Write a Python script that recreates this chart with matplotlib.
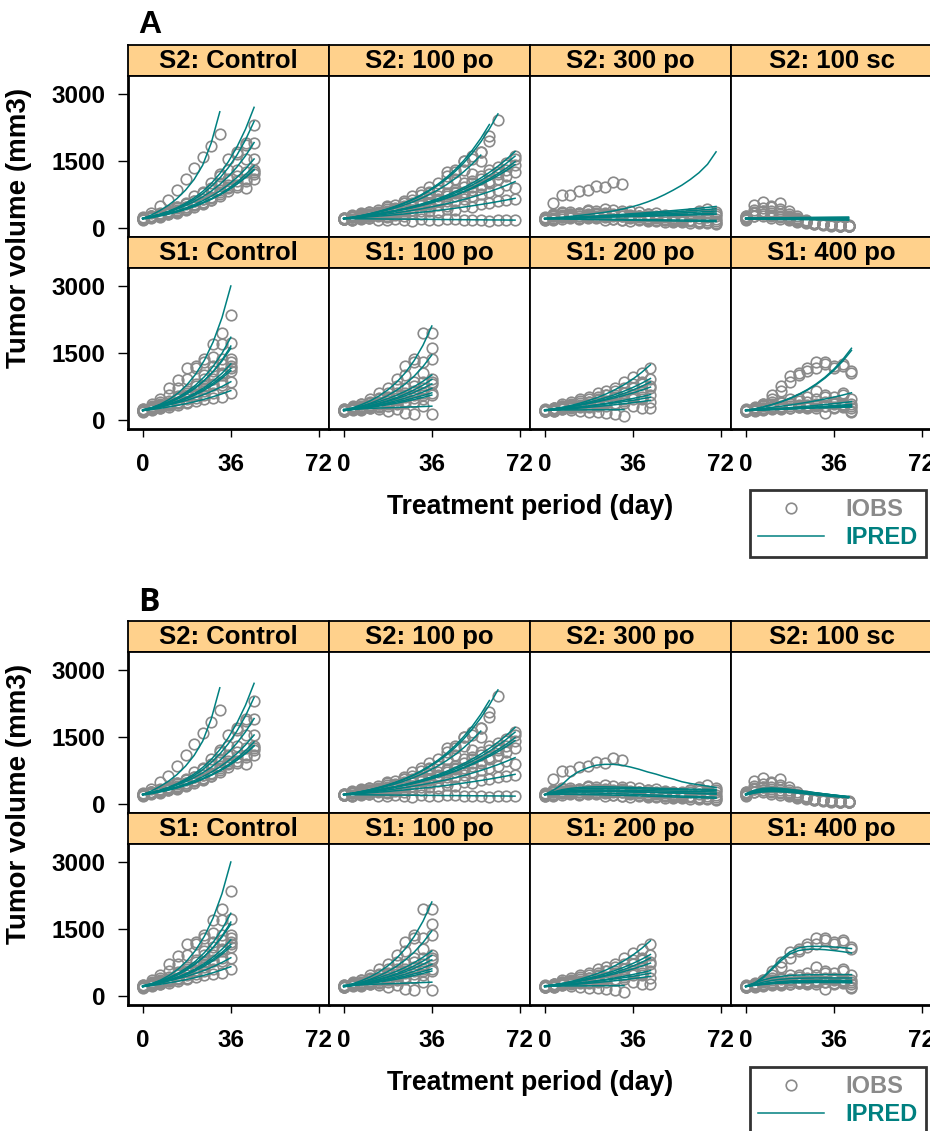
import numpy as np
import matplotlib.pyplot as plt
from matplotlib.lines import Line2D

plt.rcParams['font.family'] = ['Liberation Sans', 'DejaVu Sans']
plt.rcParams['font.weight'] = 'bold'

GRAY = '#8a8a8a'
TEAL = '#008080'
STRIP = '#ffd18c'

# sampling days
DAYS_S2 = [0, 3.5, 7, 10.5, 14, 17.5, 21, 24.5, 28, 31.5, 35, 38.5, 42, 45.5,
           49, 52.5, 56, 59.5, 63, 66.5, 70]
DAYS_S1 = [0, 3.6, 7.2, 10.8, 14.4, 18, 21.6, 25.2, 28.8, 32.4, 36, 39.6, 43.2]

# ---- S2: Control ----
S2_CTRL_OBS = [
    [200, 330, 480, 620, 840, 1090, 1340, 1580, 1840, 2100],
    [210, 260, 320, 350, 470, 520, 700, 780, 1000, 1150, 1550, 1650, 1900, 2300],
    [190, 250, 310, 330, 450, 560, 600, 800, 880, 1200, 1300, 1700, 1850, 1900],
    [230, 270, 280, 380, 430, 470, 600, 650, 850, 1000, 1100, 1300, 1550, 1550],
    [200, 260, 250, 330, 350, 470, 500, 630, 680, 850, 950, 1150, 1250, 1300],
    [180, 210, 290, 300, 380, 400, 500, 520, 660, 700, 880, 900, 1100, 1250],
    [220, 240, 300, 300, 390, 420, 520, 560, 620, 750, 820, 1050, 1050, 1100],
    [190, 240, 240, 320, 330, 420, 450, 580, 620, 800, 900, 950, 880, 1200],
]
S2_CTRL_IPRED = [
    [200, 280, 380, 500, 650, 840, 1080, 1400, 1900, 2600],
    [200, 245, 300, 365, 445, 545, 665, 810, 990, 1210, 1480, 1810, 2210, 2700],
    [200, 242, 293, 354, 429, 519, 628, 760, 919, 1112, 1346, 1628, 1970, 2384],
    [210, 249, 295, 350, 414, 491, 582, 689, 817, 968, 1147, 1359, 1611, 1909],
    [200, 234, 274, 320, 375, 439, 513, 601, 703, 822, 962, 1125, 1317, 1540],
    [200, 231, 267, 308, 356, 411, 475, 548, 633, 731, 845, 976, 1127, 1302],
    [210, 242, 278, 319, 367, 422, 486, 558, 642, 739, 850, 977, 1124, 1292],
    [190, 221, 258, 300, 350, 408, 475, 553, 645, 751, 875, 1019, 1188, 1384],
]

# ---- S2: 100 po ----
S2_100PO_OBS = [
    [200, 260, 320, 280, 400, 450, 430, 560, 700, 720, 900, 850, 1150, 1250, 1500, 1600, 1700, 2050, 2420],
    [220, 280, 250, 340, 300, 480, 500, 600, 560, 800, 780, 1000, 1250, 1300, 1500, 1550, 1700, 1950],
    [190, 250, 300, 350, 300, 420, 380, 550, 620, 600, 800, 850, 1000, 1100, 1300, 1200, 1500],
    [200, 230, 280, 260, 350, 330, 420, 480, 450, 600, 650, 700, 780, 850, 1000, 1050, 1150, 1300, 1350, 1450, 1600],
    [210, 240, 220, 300, 330, 380, 350, 450, 520, 500, 650, 600, 750, 800, 900, 1000, 1100, 1200, 1250, 1400, 1550],
    [190, 250, 270, 250, 320, 300, 400, 380, 500, 550, 520, 650, 700, 780, 800, 900, 950, 1050, 1200, 1300, 1400],
    [220, 200, 260, 300, 280, 350, 320, 420, 400, 500, 550, 620, 600, 700, 760, 850, 900, 1000, 1100, 1150, 1250],
    [200, 230, 210, 260, 290, 270, 350, 330, 400, 380, 450, 500, 480, 600, 650, 700, 750, 800, 850, 950, 880],
    [200, 180, 230, 220, 260, 240, 290, 270, 330, 300, 370, 350, 420, 400, 480, 450, 520, 560, 600, 620, 650],
    [190, 170, 200, 220, 180, 160, 200, 170, 150, 190, 180, 160, 200, 190, 170, 180, 160, 150, 170, 160, 170],
]
S2_100PO_IPRED = [
    [200, 230, 265, 306, 352, 406, 467, 538, 620, 714, 823, 948, 1092, 1258, 1449, 1669, 1923, 2215, 2552],
    [200, 231, 267, 308, 356, 411, 474, 548, 633, 731, 844, 975, 1126, 1300, 1502, 1735, 2003, 2314],
    [200, 228, 260, 296, 338, 385, 439, 500, 570, 650, 741, 845, 963, 1098, 1252, 1427, 1627],
    [200, 223, 248, 276, 307, 342, 380, 423, 471, 525, 584, 650, 724, 806, 897, 999, 1112, 1238, 1378, 1534, 1708],
    [200, 222, 246, 273, 303, 337, 374, 415, 460, 511, 567, 629, 698, 774, 859, 953, 1058, 1174, 1302, 1445, 1604],
    [200, 221, 244, 270, 298, 330, 364, 403, 445, 492, 544, 601, 664, 734, 811, 896, 991, 1095, 1210, 1338, 1478],
    [210, 231, 254, 279, 307, 338, 372, 409, 450, 495, 544, 599, 658, 724, 797, 876, 964, 1060, 1166, 1283, 1411],
    [200, 217, 236, 256, 278, 301, 327, 355, 385, 418, 454, 493, 535, 580, 630, 684, 742, 806, 874, 949, 1030],
    [200, 212, 225, 239, 254, 269, 286, 303, 322, 342, 362, 385, 408, 433, 460, 488, 518, 549, 583, 618, 656],
    [200, 198, 196, 195, 193, 191, 189, 188, 186, 184, 183, 181, 179, 178, 176, 174, 173, 171, 170, 168, 166],
]

# ---- S2: 300 po ----
S2_300PO_OBS = [
    [200, 560, 730, 730, 820, 840, 930, 900, 1030, 970],
    [220, 300, 280, 350, 330, 400, 380, 420, 390, 360, 380, 340, 300, 320, 280, 260, 240, 300, 380, 420, 350],
    [180, 250, 320, 300, 270, 300, 330, 280, 300, 250, 230, 260, 200, 220, 180, 170, 200, 160, 150, 180, 140],
    [200, 260, 240, 280, 250, 220, 260, 240, 200, 180, 220, 190, 160, 150, 170, 140, 120, 150, 130, 110, 100],
    [240, 220, 270, 230, 300, 260, 240, 300, 250, 270, 230, 250, 210, 230, 190, 200, 170, 180, 220, 250, 300],
    [160, 200, 230, 260, 220, 280, 300, 250, 280, 320, 290, 260, 300, 270, 230, 250, 210, 260, 280, 240, 200],
    [210, 180, 200, 220, 190, 230, 210, 180, 200, 170, 150, 180, 140, 160, 130, 120, 140, 110, 100, 120, 90],
    [190, 280, 350, 300, 330, 360, 300, 330, 280, 300, 260, 240, 270, 230, 250, 220, 260, 300, 330, 280, 250],
]
S2_300PO_IPRED_A = [
    [200, 215, 232, 250, 270, 292, 316, 342, 372, 410, 455, 510, 575, 650, 740, 840, 950, 1080, 1230, 1420, 1700],
    [200, 209, 218, 228, 238, 248, 259, 270, 282, 295, 308, 321, 335, 350, 365, 381, 398, 415, 434, 453, 473],
    [200, 204, 208, 212, 217, 221, 226, 230, 235, 240, 245, 250, 255, 260, 265, 271, 276, 282, 288, 294, 300],
    [200, 198, 196, 194, 192, 190, 188, 186, 184, 182, 180, 178, 176, 174, 172, 170, 168, 166, 164, 162, 160],
    [200, 206, 213, 219, 226, 233, 241, 248, 256, 264, 272, 281, 290, 299, 308, 318, 328, 338, 349, 360, 372],
    [200, 208, 216, 224, 232, 241, 250, 260, 270, 280, 290, 301, 313, 325, 337, 350, 363, 377, 391, 406, 421],
    [200, 196, 192, 188, 184, 181, 177, 174, 170, 167, 164, 160, 157, 154, 151, 148, 145, 142, 139, 136, 133],
    [200, 205, 210, 215, 220, 226, 231, 237, 243, 249, 255, 261, 268, 275, 281, 288, 296, 303, 311, 319, 327],
]
S2_300PO_IPRED_B = [
    [200, 300, 420, 600, 720, 800, 860, 880, 880, 860, 820, 770, 710, 660, 600, 550, 490, 450, 420, 390, 360],
    [200, 260, 310, 340, 360, 370, 375, 375, 372, 368, 362, 356, 350, 344, 338, 333, 328, 324, 320, 318, 316],
    [200, 230, 255, 270, 280, 285, 285, 283, 280, 275, 270, 264, 258, 252, 246, 240, 234, 228, 222, 216, 210],
    [200, 220, 232, 238, 240, 238, 234, 229, 223, 217, 210, 203, 196, 189, 182, 175, 168, 161, 155, 149, 143],
    [200, 230, 250, 262, 268, 270, 270, 268, 265, 262, 258, 254, 250, 246, 242, 238, 235, 232, 229, 226, 224],
    [200, 240, 270, 288, 298, 303, 305, 305, 303, 300, 297, 293, 289, 285, 281, 277, 273, 269, 266, 263, 260],
    [200, 205, 207, 207, 205, 202, 198, 193, 188, 183, 178, 172, 166, 160, 154, 148, 142, 136, 130, 124, 118],
    [200, 250, 290, 315, 330, 338, 342, 342, 340, 337, 333, 329, 325, 321, 317, 313, 309, 305, 302, 299, 296],
]

# ---- S2: 100 sc ----
S2_100SC_OBS = [
    [250, 500, 570, 480, 540, 380, 260, 170, 110, 80, 60, 45, 30],
    [200, 400, 430, 360, 420, 300, 220, 150, 100, 70, 50, 40, 25],
    [230, 320, 360, 460, 380, 270, 200, 140, 100, 80, 60, 50, 40],
    [180, 260, 300, 280, 240, 200, 150, 120, 90, 70, 50, 40, 30],
    [220, 350, 300, 260, 300, 230, 180, 130, 100, 80, 60, 50, 45],
    [260, 330, 380, 330, 270, 220, 170, 140, 110, 90, 70, 55, 50],
    [200, 270, 250, 220, 190, 160, 130, 100, 80, 60, 45, 35, 25],
]
S2_100SC_IPRED_A = [
    [210, 212, 214, 216, 218, 220, 222, 224, 226, 228, 230, 232, 234],
    [200, 201, 202, 203, 204, 205, 206, 207, 208, 209, 210, 211, 212],
    [205, 205, 204, 204, 203, 203, 202, 202, 201, 201, 200, 200, 199],
    [195, 194, 193, 192, 191, 190, 189, 188, 187, 186, 185, 184, 183],
    [200, 198, 196, 194, 192, 190, 188, 186, 184, 182, 180, 178, 176],
    [215, 216, 217, 218, 219, 220, 221, 222, 223, 224, 225, 226, 227],
    [190, 188, 186, 184, 182, 180, 178, 176, 174, 172, 170, 168, 166],
]
S2_100SC_IPRED_B = [
    [220, 300, 340, 350, 340, 320, 295, 270, 245, 220, 195, 172, 150],
    [200, 270, 310, 320, 315, 300, 280, 258, 235, 212, 190, 168, 148],
    [210, 280, 320, 335, 330, 315, 292, 268, 244, 220, 196, 174, 152],
    [190, 240, 270, 280, 275, 262, 245, 226, 206, 186, 167, 150, 134],
    [200, 255, 285, 295, 290, 277, 260, 240, 220, 200, 180, 162, 145],
    [215, 275, 310, 322, 318, 305, 285, 262, 240, 218, 196, 176, 157],
    [195, 235, 260, 268, 264, 252, 236, 218, 200, 182, 164, 148, 132],
]

# ---- S1: Control ----
S1_CTRL_OBS = [
    [210, 300, 400, 550, 700, 900, 1200, 1350, 1700, 1950, 2350],
    [200, 350, 450, 700, 880, 1150, 1150, 1300, 1400, 1700, 1720],
    [190, 280, 320, 420, 500, 650, 750, 1000, 1200, 1350, 1350],
    [230, 250, 330, 380, 520, 600, 800, 900, 1100, 1250, 1300],
    [200, 260, 300, 360, 450, 520, 650, 700, 900, 1000, 1200],
    [220, 240, 350, 330, 400, 550, 580, 750, 780, 1050, 1150],
    [180, 230, 280, 350, 380, 450, 550, 650, 800, 850, 1100],
    [240, 260, 260, 330, 370, 400, 480, 550, 600, 780, 850],
    [200, 220, 250, 280, 320, 370, 420, 450, 480, 500, 600],
]
S1_CTRL_IPRED = [
    [200, 262, 344, 451, 591, 775, 1016, 1332, 1746, 2289, 3000],
    [210, 261, 324, 403, 501, 623, 774, 962, 1196, 1487, 1848],
    [200, 247, 305, 377, 465, 574, 709, 876, 1082, 1336, 1650],
    [220, 268, 327, 399, 487, 594, 724, 883, 1077, 1313, 1601],
    [200, 240, 288, 346, 416, 500, 600, 721, 866, 1040, 1249],
    [210, 249, 295, 350, 414, 491, 582, 690, 818, 970, 1150],
    [200, 237, 281, 334, 396, 469, 556, 660, 782, 928, 1100],
    [220, 252, 288, 330, 378, 432, 495, 566, 648, 742, 849],
    [200, 225, 253, 285, 320, 360, 405, 456, 513, 577, 649],
]

# ---- S1: 100 po ----
S1_100PO_OBS = [
    [200, 280, 350, 450, 600, 700, 900, 1200, 1350, 1950, 1950],
    [220, 300, 350, 400, 480, 600, 750, 1000, 1300, 1300, 1600],
    [210, 260, 300, 380, 450, 500, 600, 700, 850, 1050, 1350],
    [190, 240, 290, 330, 400, 450, 550, 600, 750, 850, 900],
    [230, 250, 280, 320, 350, 420, 480, 550, 650, 700, 850],
    [200, 220, 270, 300, 340, 380, 430, 500, 550, 600, 800],
    [210, 250, 240, 280, 300, 350, 380, 420, 480, 550, 600],
    [190, 230, 250, 260, 280, 300, 350, 380, 400, 450, 550],
    [240, 230, 220, 250, 240, 200, 230, 150, 120, 300, 130],
]
S1_100PO_IPRED = [
    [210, 264, 333, 419, 528, 664, 836, 1053, 1326, 1669, 2101],
    [200, 244, 297, 363, 442, 539, 657, 801, 976, 1190, 1450],
    [220, 256, 298, 347, 403, 469, 546, 635, 739, 860, 1000],
    [200, 232, 270, 314, 365, 424, 493, 573, 666, 774, 900],
    [210, 240, 274, 314, 358, 410, 468, 535, 612, 700, 800],
    [200, 227, 257, 291, 330, 374, 424, 481, 545, 617, 700],
    [210, 233, 259, 288, 320, 355, 394, 438, 487, 540, 600],
    [200, 221, 245, 271, 300, 332, 367, 406, 449, 497, 550],
    [230, 236, 243, 250, 257, 264, 271, 278, 285, 292, 300],
]

# ---- S1: 200 po ----
S1_200PO_OBS = [
    [200, 250, 300, 400, 420, 500, 600, 650, 700, 850, 950, 1050, 1150],
    [220, 260, 350, 320, 450, 400, 500, 550, 650, 700, 800, 850, 900],
    [210, 240, 280, 330, 380, 450, 430, 550, 500, 600, 700, 800, 750],
    [190, 230, 300, 350, 300, 400, 450, 400, 550, 600, 550, 650, 700],
    [230, 200, 260, 280, 330, 300, 380, 420, 350, 450, 500, 450, 550],
    [200, 250, 230, 300, 280, 350, 300, 400, 380, 420, 450, 500, 400],
    [210, 220, 270, 250, 300, 280, 320, 300, 350, 380, 300, 250, 250],
    [190, 200, 230, 220, 200, 180, 160, 150, 120, 75],
]
S1_200PO_IPRED = [
    [200, 233, 271, 315, 367, 427, 496, 577, 672, 782, 909, 1058, 1231],
    [210, 238, 269, 304, 344, 389, 440, 498, 563, 637, 720, 814, 921],
    [200, 225, 254, 286, 323, 364, 410, 462, 521, 587, 662, 746, 841],
    [220, 243, 269, 297, 328, 362, 400, 442, 489, 540, 597, 659, 729],
    [200, 218, 237, 259, 282, 307, 335, 365, 397, 433, 472, 514, 560],
    [210, 226, 243, 261, 280, 301, 324, 348, 374, 402, 432, 465, 500],
    [200, 213, 227, 242, 258, 275, 293, 313, 333, 355, 379, 404, 430],
    [210, 212, 214, 216, 217, 218, 219, 220, 221, 222],
]

# ---- S1: 400 po ----
S1_400PO_OBS = [
    [200, 260, 350, 550, 750, 980, 1050, 1150, 1290, 1250, 1200, 1250, 1100],
    [210, 240, 320, 450, 650, 850, 1000, 1100, 1150, 1300, 1150, 1200, 1050],
    [200, 280, 350, 400, 380, 450, 420, 500, 650, 550, 500, 600, 450],
    [220, 250, 300, 350, 400, 380, 450, 400, 450, 500, 400, 550, 350],
    [190, 230, 260, 300, 280, 350, 320, 300, 350, 400, 380, 350, 300],
    [210, 200, 250, 230, 300, 260, 300, 280, 320, 300, 350, 300, 250],
    [200, 260, 220, 280, 250, 300, 280, 330, 300, 150, 280, 320, 200],
    [230, 210, 240, 260, 230, 250, 280, 250, 270, 300, 250, 280, 180],
]
S1_400PO_IPRED_A = [
    [200, 238, 283, 336, 400, 476, 566, 673, 800, 951, 1131, 1345, 1600],
    [200, 237, 281, 334, 396, 470, 557, 661, 784, 930, 1103, 1308, 1552],
    [210, 229, 250, 273, 298, 325, 355, 387, 423, 461, 503, 549, 600],
    [200, 212, 225, 238, 252, 267, 283, 300, 318, 337, 357, 378, 400],
    [200, 210, 219, 229, 240, 251, 262, 274, 286, 299, 313, 327, 342],
    [210, 217, 225, 233, 241, 249, 258, 267, 276, 286, 296, 306, 317],
    [200, 207, 214, 221, 228, 236, 244, 252, 261, 270, 279, 289, 299],
    [220, 225, 230, 235, 240, 245, 250, 255, 260, 265, 270, 275, 280],
]
S1_400PO_IPRED_B = [
    [200, 280, 420, 620, 820, 980, 1070, 1100, 1105, 1100, 1090, 1075, 1055],
    [200, 270, 400, 590, 780, 930, 1010, 1040, 1040, 1030, 1010, 985, 955],
    [210, 280, 350, 400, 430, 450, 460, 465, 468, 470, 470, 470, 470],
    [200, 250, 300, 340, 365, 380, 388, 392, 394, 395, 395, 394, 393],
    [200, 235, 270, 295, 315, 328, 336, 340, 342, 343, 343, 342, 340],
    [210, 240, 265, 285, 298, 306, 311, 313, 314, 314, 313, 312, 310],
    [200, 225, 248, 265, 278, 286, 291, 294, 295, 295, 294, 293, 291],
    [220, 240, 258, 272, 282, 288, 292, 294, 295, 295, 294, 292, 290],
]

TITLES = [['S2: Control', 'S2: 100 po', 'S2: 300 po', 'S2: 100 sc'],
          ['S1: Control', 'S1: 100 po', 'S1: 200 po', 'S1: 400 po']]
X_TICKS = [0, 36, 72]
Y_TICKS = [0, 1500, 3000]

PANELS_A = [
    [(DAYS_S2, S2_CTRL_OBS, S2_CTRL_IPRED), (DAYS_S2, S2_100PO_OBS, S2_100PO_IPRED),
     (DAYS_S2, S2_300PO_OBS, S2_300PO_IPRED_A), (DAYS_S2, S2_100SC_OBS, S2_100SC_IPRED_A)],
    [(DAYS_S1, S1_CTRL_OBS, S1_CTRL_IPRED), (DAYS_S1, S1_100PO_OBS, S1_100PO_IPRED),
     (DAYS_S1, S1_200PO_OBS, S1_200PO_IPRED), (DAYS_S1, S1_400PO_OBS, S1_400PO_IPRED_A)],
]
PANELS_B = [
    [(DAYS_S2, S2_CTRL_OBS, S2_CTRL_IPRED), (DAYS_S2, S2_100PO_OBS, S2_100PO_IPRED),
     (DAYS_S2, S2_300PO_OBS, S2_300PO_IPRED_B), (DAYS_S2, S2_100SC_OBS, S2_100SC_IPRED_B)],
    [(DAYS_S1, S1_CTRL_OBS, S1_CTRL_IPRED), (DAYS_S1, S1_100PO_OBS, S1_100PO_IPRED),
     (DAYS_S1, S1_200PO_OBS, S1_200PO_IPRED), (DAYS_S1, S1_400PO_OBS, S1_400PO_IPRED_B)],
]

W, H = 930, 1131
fig = plt.figure(figsize=(W / 100, H / 100), dpi=100)


def px_axes(x0, y0, w, h):
    return fig.add_axes([x0 / W, 1 - (y0 + h) / H, w / W, h / H])


COL_X = [128, 329, 530, 731]
COL_W = 201
STRIP_H = 31
PLOT_H = 161


def draw_block(top, panels, letter, letter_font, letter_y, xlab_y, ylab_y, leg_y):
    for r in range(2):
        strip_top = top + r * (STRIP_H + PLOT_H)
        for c in range(4):
            days, obs, ipred = panels[r][c]
            sx = px_axes(COL_X[c], strip_top, COL_W, STRIP_H)
            sx.set_facecolor(STRIP)
            sx.set_xticks([])
            sx.set_yticks([])
            for s in sx.spines.values():
                s.set_linewidth(1.3)
            sx.text(0.5, 0.47, TITLES[r][c], ha='center', va='center',
                    fontsize=18.5, fontweight='bold', transform=sx.transAxes)

            ax = px_axes(COL_X[c], strip_top + STRIP_H, COL_W, PLOT_H)
            for vals in obs:
                ax.plot(days[:len(vals)], vals, ls='none', marker='o', mfc='none',
                        mec=GRAY, ms=7.6, mew=1.2)
            for vals in ipred:
                ax.plot(days[:len(vals)], vals, color=TEAL, lw=1.1)
            ax.set_xlim(-6.0, 76.1)
            ax.set_ylim(-213, 3404)
            for s in ax.spines.values():
                s.set_linewidth(1.3)
            if c == 0:
                ax.spines['left'].set_linewidth(2.0)
                ax.set_yticks(Y_TICKS)
                ax.tick_params(axis='y', direction='out', length=7, width=1,
                               labelsize=17.5, pad=9)
            else:
                ax.set_yticks([])
            if r == 1:
                ax.spines['bottom'].set_linewidth(2.0)
                ax.set_xticks(X_TICKS)
                ax.tick_params(axis='x', direction='out', length=6, width=1,
                               labelsize=17.5, pad=11)
            else:
                ax.set_xticks([])
            for lab in ax.get_xticklabels() + ax.get_yticklabels():
                lab.set_fontweight('bold')

    fig.text(138 / W, 1 - letter_y / H, letter, fontsize=23, fontweight='bold',
             va='baseline', ha='left', family=letter_font)
    fig.text(530 / W, 1 - xlab_y / H, 'Treatment period (day)', fontsize=19.2,
             fontweight='bold', ha='center', va='center')
    fig.text(19 / W, 1 - ylab_y / H, 'Tumor volume (mm3)', fontsize=20,
             fontweight='bold', ha='center', va='center', rotation=90)

    handles = [Line2D([], [], ls='none', marker='o', mfc='none', mec=GRAY, ms=7.6, mew=1.2),
               Line2D([], [], color=TEAL, lw=1.1)]
    leg = fig.legend(handles, ['IOBS', 'IPRED'], loc='upper left',
                     bbox_to_anchor=(750 / W, 1 - leg_y / H), frameon=True,
                     fancybox=False, edgecolor='black', fontsize=17,
                     handlelength=2.8, handletextpad=0.9, borderpad=0.35,
                     labelspacing=0.2, borderaxespad=0, numpoints=1)
    leg.get_frame().set_linewidth(2)
    leg.get_texts()[0].set_color(GRAY)
    leg.get_texts()[1].set_color(TEAL)
    for t in leg.get_texts():
        t.set_fontweight('bold')


draw_block(45, PANELS_A, 'A', ['Liberation Sans', 'DejaVu Sans'], 33, 507, 228, 490)
draw_block(621, PANELS_B, 'B', ['Open Sans', 'DejaVu Sans'], 611, 1083, 804, 1067)

fig.savefig('out.png', dpi=100)
